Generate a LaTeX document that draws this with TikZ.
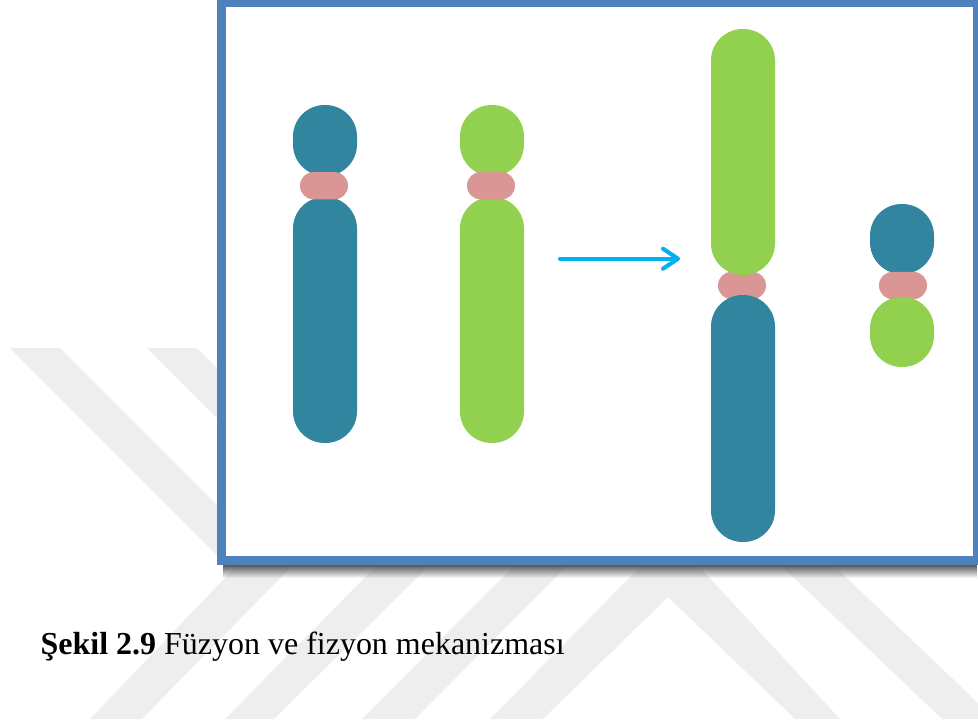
\documentclass[tikz,border=0pt]{standalone}
\usepackage{fontspec}
\setmainfont{Liberation Serif}
\usetikzlibrary{arrows.meta,fadings}
\definecolor{chromBlue}{HTML}{32859E}
\definecolor{chromGreen}{HTML}{92D14F}
\definecolor{chromPink}{HTML}{D99694}
\definecolor{frameBlue}{HTML}{4F81BD}
\definecolor{arrowBlue}{HTML}{00B0F0}
\definecolor{bandGrey}{HTML}{EEEEEE}

\begin{document}
\begin{tikzpicture}[x=0.05cm,y=-0.05cm]
	\tikzstyle{arm} = [minimum width=3.2cm, rounded corners=1.58cm, inner sep=0pt]
	\tikzstyle{blue} = [arm, fill=chromBlue]
	\tikzstyle{green} = [arm, fill=chromGreen]
	\tikzstyle{centromere} = [minimum width=2.4cm, minimum height=1.36cm, rounded corners=0.67cm, inner sep=0pt, fill=chromPink]
	\tikzstyle{band} = [fill=bandGrey]
	\tikzstyle{box} = [draw=frameBlue, fill=white, line width=0.425cm, minimum width=37.79cm, minimum height=27.9cm, inner sep=0pt]
	\tikzstyle{fusion} = [draw=arrowBlue, line width=0.2cm, line cap=round, -{Straight Barb[length=0.75cm,width=1.0cm,round]}]

	\useasboundingbox (0,0) rectangle (978,724);

	% watermark behind everything
	\fill[band] (10,348) -- (60,348) -- (230,518) -- (230,568) -- cycle;
	\fill[band] (147,348) -- (197,348) -- (230,381) -- (230,431) -- (217,418) -- cycle;
	\fill[band] (90,719) -- (142,719) -- (298,560) -- (242,560) -- cycle;
	\fill[band] (225,719) -- (274,719) -- (435,560) -- (382,560) -- cycle;
	\fill[band] (362,719) -- (415,719) -- (573,560) -- (520,560) -- cycle;
	\fill[band] (490,719) -- (543,719) -- (668,597) -- (795,719) -- (840,719) -- (693,560) -- (647,560) -- cycle;
	\fill[band] (942,719) -- (978,719) -- (978,703) -- (828,560) -- (775,560) -- cycle;

	% frame and its shadow
	\fill[black!65, path fading=south] (223,565) rectangle (978,578);
	\node[box] (Frame) at (599.4,281.75) {};

	% first pair
	\node[blue, minimum height=3.55cm] (BlueShort) at (325,140.5) {};
	\node[blue, minimum height=12.3cm] (BlueLong) at (325,320) {};
	\node[centromere] (PinkOne) at (324,185.7) {};

	\node[green, minimum height=3.55cm] (GreenShort) at (492,140.5) {};
	\node[green, minimum height=12.3cm] (GreenLong) at (492,320) {};
	\node[centromere] (PinkTwo) at (491,185.7) {};

	% fused chromosome
	\node[centromere] (PinkThree) at (742,285.5) {};
	\node[green, minimum height=12.3cm] (GreenFused) at (743,152) {};
	\node[blue, minimum height=12.35cm] (BlueFused) at (743,418.5) {};

	% small chromosome
	\node[blue, minimum height=3.5cm] (BlueSmall) at (902,239) {};
	\node[centromere] (PinkFour) at (903,285.5) {};
	\node[green, minimum height=3.5cm] (GreenSmall) at (902,332) {};

	% arrow between the two states
	\coordinate (ArrowStart) at (560,258.7);
	\coordinate (ArrowEnd) at (680,258.7);
	\draw[fusion, draw=black, opacity=0.15, shift={(0.4,1.4)}] (ArrowStart) -- (ArrowEnd);
	\draw[fusion] (ArrowStart) -- (ArrowEnd);

	\node[anchor=base west, inner sep=0pt, font=\fontsize{45.5}{54}\selectfont] (Caption) at (40.5,654) {\textbf{Şekil 2.9} Füzyon ve fizyon mekanizması};
\end{tikzpicture}
\end{document}
